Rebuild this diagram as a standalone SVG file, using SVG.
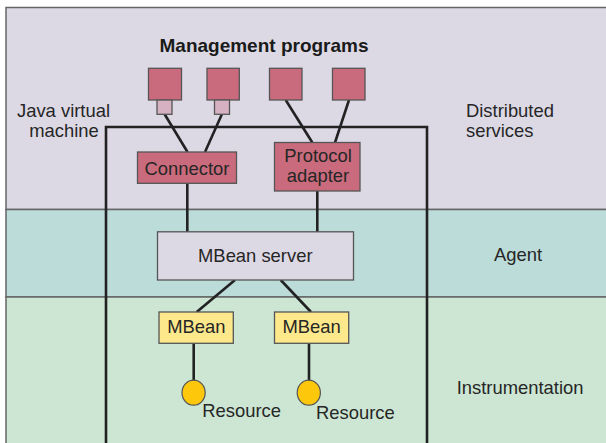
<svg xmlns="http://www.w3.org/2000/svg" width="606" height="443" viewBox="0 0 606 443">
<style>
text{font-family:"Liberation Sans",Arial,sans-serif;font-size:18.4px;fill:#262626}
.band{stroke:#666;stroke-width:1.5}
.pink{fill:#c96b7c;stroke:#555;stroke-width:1.3}
.tab{fill:#d6b1c1;stroke:#555;stroke-width:1.3}
.yel{fill:#fde98c;stroke:#555;stroke-width:1.3}
.conn line,.conn path{stroke:#222;stroke-width:2.6;fill:none}
.mid{text-anchor:middle}
</style>
<g id="bands">
<rect class="band" x="6" y="7.5" width="620" height="202" fill="#dcd9e5"/>
<rect class="band" x="6" y="209.5" width="620" height="87.5" fill="#bcdcd9"/>
<rect class="band" x="6" y="297" width="620" height="160" fill="#cce6d3"/>
</g>
<g id="labels">
<text x="264" y="51.7" class="mid" style="font-weight:bold;font-size:17.7px;fill:#1a1a1a" textLength="209" lengthAdjust="spacingAndGlyphs">Management programs</text>
<text x="63.5" y="116.5" class="mid">Java virtual</text>
<text x="64" y="137" class="mid">machine</text>
<text x="466" y="116.7">Distributed</text>
<text x="466" y="137.3">services</text>
<text x="518" y="260.7" class="mid">Agent</text>
<text x="456.7" y="394">Instrumentation</text>
</g>
<g class="conn" id="connectors">
<path d="M106,450 V127 H427 V450"/>
<line x1="164.5" y1="114" x2="187.5" y2="152"/>
<line x1="222" y1="114" x2="205" y2="152"/>
<line x1="285.7" y1="100" x2="312.3" y2="142.5"/>
<line x1="349" y1="100" x2="335" y2="142.5"/>
<line x1="187.3" y1="183" x2="187.3" y2="232"/>
<line x1="317.3" y1="191" x2="317.3" y2="232"/>
<line x1="235" y1="280" x2="196.7" y2="312"/>
<line x1="280.7" y1="280" x2="311" y2="312"/>
<line x1="193.7" y1="343" x2="193.7" y2="381"/>
<line x1="309" y1="343" x2="309" y2="381"/>
</g>
<g id="mgmt1"><rect class="pink" x="148.5" y="68.3" width="33" height="31.7"/><rect class="tab" x="157" y="100" width="15" height="14.3"/></g>
<g id="mgmt2"><rect class="pink" x="207" y="68.3" width="32.3" height="31.7"/><rect class="tab" x="214.5" y="100" width="15" height="14.3"/></g>
<g id="mgmt3"><rect class="pink" x="269.5" y="68.3" width="32.5" height="31.7"/></g>
<g id="mgmt4"><rect class="pink" x="332.5" y="68.3" width="32.5" height="31.7"/></g>
<g id="connector"><rect class="pink" x="137.5" y="152" width="99" height="31.3"/><text x="187" y="175" class="mid">Connector</text></g>
<g id="protocol"><rect class="pink" x="274.5" y="142.5" width="85.5" height="48.5"/><text x="318" y="162" class="mid">Protocol</text><text x="318" y="181.5" class="mid">adapter</text></g>
<g id="mbeanserver"><rect x="157.5" y="231.8" width="196" height="48.2" fill="#dcd9e5" stroke="#555" stroke-width="1.3"/><text x="255.3" y="262" class="mid">MBean server</text></g>
<g id="mbean1"><rect class="yel" x="159" y="312" width="74.3" height="31.3"/><text x="196.3" y="333.3" class="mid">MBean</text></g>
<g id="mbean2"><rect class="yel" x="274.5" y="312" width="74.2" height="31.3"/><text x="311.6" y="333.3" class="mid">MBean</text></g>
<g id="resource1"><ellipse cx="193.6" cy="392.7" rx="11.6" ry="12.5" fill="#fdc70c" stroke="#555" stroke-width="1.2"/><text x="202.3" y="416.7">Resource</text></g>
<g id="resource2"><ellipse cx="308.8" cy="392.7" rx="11.6" ry="12.5" fill="#fdc70c" stroke="#555" stroke-width="1.2"/><text x="316" y="419">Resource</text></g>
</svg>
